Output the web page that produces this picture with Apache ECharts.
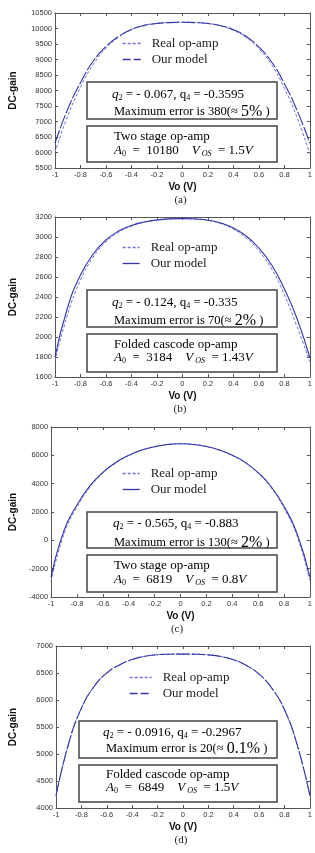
<!DOCTYPE html>
<html>
<head>
<meta charset="utf-8">
<script src="https://cdn.jsdelivr.net/npm/echarts@6/dist/echarts.min.js"></script>
<style>
  html,body{margin:0;padding:0;background:#fff;}
  #chart{width:315px;height:853px;}
</style>
</head>
<body>
<div id="chart"></div>
<script>
// Vo (V) sample points
var vo = [-1,-0.9,-0.8,-0.7,-0.6,-0.5,-0.4,-0.3,-0.2,-0.1,0,0.1,0.2,0.3,0.4,0.5,0.6,0.7,0.8,0.9,1];

// (a) two stage op-amp
var realA  = [6000,7180,8100,8840,9360,9720,9960,10100,10170,10195,10205,10195,10165,10085,9940,9710,9350,8830,8070,7120,5950];
var modelA = [6300,7400,8250,8950,9420,9750,9970,10100,10160,10190,10200,10190,10160,10090,9960,9740,9400,8920,8220,7350,6300];
// (b) folded cascode op-amp
var realB  = [1760,2230,2570,2800,2950,3048,3108,3148,3171,3183,3186,3182,3166,3134,3078,2990,2860,2680,2420,2100,1750];
var modelB = [1800,2300,2620,2830,2970,3060,3115,3150,3170,3181,3184,3180,3168,3140,3090,3010,2890,2720,2480,2180,1790];
// (c) two stage op-amp
var realC  = [-2900,450,2350,3750,4740,5460,5980,6360,6610,6770,6830,6780,6620,6370,5990,5470,4730,3720,2280,330,-2900];
var modelC = [-2600,700,2500,3850,4800,5500,6000,6370,6610,6760,6819,6770,6620,6380,6010,5500,4780,3800,2400,500,-2600];
// (d) folded cascode op-amp
var realD  = [4215,5190,5845,6248,6498,6650,6750,6810,6838,6849,6851,6849,6836,6804,6742,6636,6475,6212,5810,5160,4220];
var modelD = [4230,5200,5850,6250,6500,6650,6750,6810,6838,6848,6850,6848,6836,6805,6745,6640,6480,6220,5820,5170,4230];

// y axis ranges per panel
var yMin = [5500,1600,-4000,4000];
var yMax = [10500,3200,8000,7000];
var yStep = [500,200,2000,500];

var panelLabels = ['(a)','(b)','(c)','(d)'];

function pairs(ys){ return vo.map(function(x,i){ return [x, ys[i]]; }); }

var grids = [
  {left:49, top:13, width:263, height:155},
  {left:49, top:217, width:262, height:160},
  {left:43, top:427, width:268, height:170},
  {left:50, top:646, width:262, height:162}
];

var SERIF = '"Liberation Serif", "DejaVu Serif", serif';
var SANS = '"Liberation Sans", Arial, sans-serif';
var REAL_COLOR = '#6f6fe0';
var MODEL_COLOR = '#3434a8';

var xAxes = [], yAxes = [], series = [], legends = [];
grids.forEach(function(g,i){
  xAxes.push({
    type:'value', gridIndex:i, min:-1, max:1, interval:0.2,
    name:'Vo (V)', nameLocation:'middle', nameGap:14,
    nameTextStyle:{fontFamily:SANS, fontWeight:'bold', fontSize:10, color:'#111'},
    axisLine:{onZero:false, lineStyle:{color:'#555', width:1}},
    axisTick:{inside:true, length:3, lineStyle:{color:'#555'}},
    axisLabel:{fontFamily:SANS, fontSize:7.5, color:'#333', margin:3},
    splitLine:{show:false}
  });
  xAxes.push({
    type:'value', gridIndex:i, min:-1, max:1, interval:0.2, position:'top',
    axisLine:{onZero:false, lineStyle:{color:'#555', width:1}},
    axisTick:{inside:true, length:3, lineStyle:{color:'#555'}},
    axisLabel:{show:false}, splitLine:{show:false}
  });
  yAxes.push({
    type:'value', gridIndex:i, min:yMin[i], max:yMax[i], interval:yStep[i],
    name:'DC-gain', nameLocation:'middle', nameGap:g.left-12,
    nameTextStyle:{fontFamily:SANS, fontWeight:'bold', fontSize:10, color:'#111'},
    axisLine:{show:true, onZero:false, lineStyle:{color:'#555', width:1}},
    axisTick:{show:true, inside:true, length:3, lineStyle:{color:'#555'}},
    axisLabel:{fontFamily:SANS, fontSize:7.5, color:'#333', margin:3,
      formatter:function(v){ return String(v); }},
    splitLine:{show:false}
  });
  yAxes.push({
    type:'value', gridIndex:i, min:yMin[i], max:yMax[i], interval:yStep[i], position:'right',
    axisLine:{show:true, onZero:false, lineStyle:{color:'#555', width:1}},
    axisTick:{show:true, inside:true, length:3, lineStyle:{color:'#555'}},
    axisLabel:{show:false}, splitLine:{show:false}
  });
});

var reals = [realA, realB, realC, realD];
var models = [modelA, modelB, modelC, modelD];
var modelDash = [[14,2],'solid','solid',[14,2]];
for (var i=0;i<4;i++){
  series.push({
    name:'Real op-amp', type:'line', xAxisIndex:2*i, yAxisIndex:2*i,
    data:pairs(reals[i]), smooth:0.5, symbol:'none',
    lineStyle:{color:REAL_COLOR, width:1, type:[3,2]}, itemStyle:{color:REAL_COLOR}
  });
  series.push({
    name:'Our model', type:'line', xAxisIndex:2*i, yAxisIndex:2*i,
    data:pairs(models[i]), smooth:0.5, symbol:'none',
    lineStyle:{color:MODEL_COLOR, width:1.1, type:modelDash[i]}, itemStyle:{color:MODEL_COLOR}
  });
}

var legendPos = [[122,37,18],[122,241,17],[122,467,17],[129,671,22]];
legendPos.forEach(function(p,i){
  legends.push({
    left:p[0], top:p[1], orient:'vertical', itemWidth:p[2], itemHeight:12, itemGap:3,
    padding:0, selectedMode:false,
    itemStyle:{opacity:0, borderWidth:0},
    textStyle:{fontFamily:SERIF, fontSize:13, color:'#222', padding:[0,0,0,6]},
    data:[
      {name:'Real op-amp', lineStyle:{type:[3,2], color:REAL_COLOR, width:1.3}},
      {name:'Our model', lineStyle:{type:(modelDash[i]==='solid'?'solid':[8,3]), color:MODEL_COLOR, width:1.3}}
    ]
  });
});

// annotation boxes
var rich = {
  n:{fontFamily:SERIF, fontSize:13, color:'#222'},
  m:{fontFamily:SERIF, fontSize:12.5, color:'#222'},
  i:{fontFamily:SERIF, fontSize:13, fontStyle:'italic', color:'#222'},
  s:{fontFamily:SERIF, fontSize:8, color:'#222', padding:[6,0,0,0]},
  si:{fontFamily:SERIF, fontSize:8, fontStyle:'italic', color:'#222', padding:[6,0,0,0]},
  b:{fontFamily:SERIF, fontSize:16, color:'#222'}
};
var notes = [
  {box1:[87,82,190,37], box2:[87,126,190,36], x1:112, x2:114, y:[95,112,137,151],
   q2:'- 0.067', q4:'-0.3595', err:'380', pct:'5%', name:'Two stage op-amp', a0:'10180', vos:'1.5'},
  {box1:[87,290,190,37], box2:[87,334,190,38], x1:112, x2:114, y:[303,321,345,358],
   q2:'- 0.124', q4:'-0.335', err:'70', pct:'2%', name:'Folded cascode op-amp', a0:'3184', vos:'1.43'},
  {box1:[87,512,190,36], box2:[87,555,190,37], x1:113, x2:114, y:[524,543,566,580],
   q2:'- 0.565', q4:'-0.883', err:'130', pct:'2%', name:'Two stage op-amp', a0:'6819', vos:'0.8'},
  {box1:[79,721,198,37], box2:[79,765,198,37], x1:103, x2:106, y:[733,749,775,788],
   q2:'- 0.0916', q4:'-0.2967', err:'20', pct:'0.1%', name:'Folded cascode op-amp', a0:'6849', vos:'1.5'}
];
var graphic = [];
notes.forEach(function(n,i){
  [n.box1,n.box2].forEach(function(b){
    graphic.push({type:'rect', shape:{x:b[0], y:b[1], width:b[2], height:b[3]},
      style:{fill:'#fff', stroke:'#444', lineWidth:1.5}, z:10});
  });
  graphic.push({type:'text', x:n.x1, y:n.y[0], z:11,
    style:{text:'{i|q}{s|2}{n| = '+n.q2+', q}{s|4}{n| = '+n.q4+'}', rich:rich, verticalAlign:'middle'}});
  graphic.push({type:'text', x:n.x2, y:n.y[1], z:11,
    style:{text:'{m|Maximum error is '+n.err+'(\u2248 }{b|'+n.pct+'}{m| )}', rich:rich, verticalAlign:'middle'}});
  graphic.push({type:'text', x:n.x2, y:n.y[2], z:11,
    style:{text:'{n|'+n.name+'}', rich:rich, verticalAlign:'middle'}});
  graphic.push({type:'text', x:n.x2, y:n.y[3], z:11,
    style:{text:'{i|A}{s|0}{n|  =  '+n.a0+'    }{i|V}{si| OS}{n|  = '+n.vos+'}{i|V}', rich:rich, verticalAlign:'middle'}});
  var g = grids[i];
  graphic.push({type:'text', x:g.left+g.width/2, y:g.top+g.height+32, z:11,
    style:{text:panelLabels[i], font:'11px '+SERIF, fill:'#222', align:'center', verticalAlign:'middle'}});
});

var chart = echarts.init(document.getElementById('chart'), null, {renderer:'canvas'});
chart.setOption({
  animation:false,
  backgroundColor:'#fff',
  grid:grids.map(function(g){ return Object.assign({containLabel:false}, g); }),
  xAxis:xAxes,
  yAxis:yAxes,
  legend:legends,
  series:series,
  graphic:graphic
});
</script>
</body>
</html>
